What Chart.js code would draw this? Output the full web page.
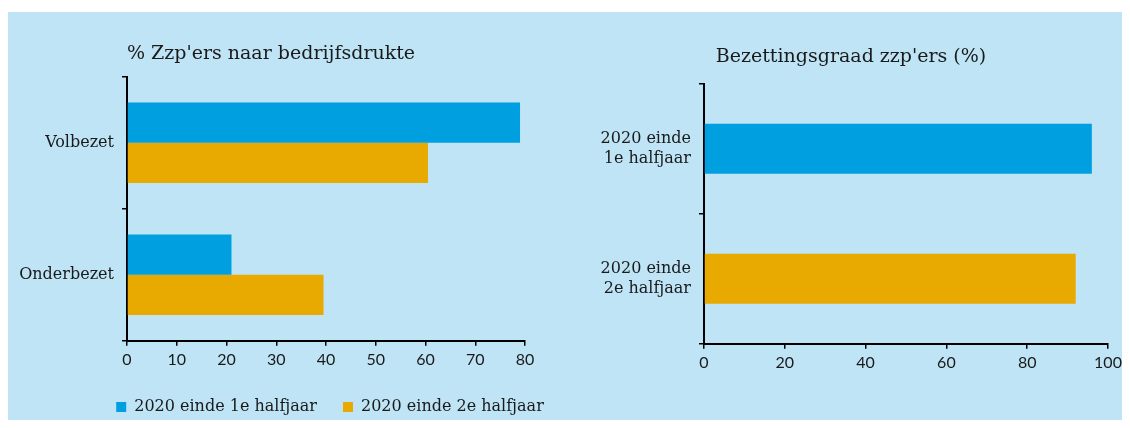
<!DOCTYPE html>
<html>
<head>
<meta charset="utf-8">
<script src="https://cdn.jsdelivr.net/npm/chart.js@4/dist/chart.umd.min.js"></script>
<style>
  body { margin: 0; background: #fff; width: 1130px; height: 428px; position: relative; overflow: hidden; }
  #panel { position: absolute; left: 8px; top: 12px; width: 1114px; height: 408px; background: #bee4f6; }
  .box { position: absolute; top: 0; height: 428px; }
  #left { left: 0; width: 660px; }
  #right { left: 570px; width: 560px; }
</style>
</head>
<body>
<div id="panel"></div>
<div class="box" id="left"><canvas id="chartLeft"></canvas></div>
<div class="box" id="right"><canvas id="chartRight"></canvas></div>
<script>
// data
const drukteCategories = ['Volbezet', 'Onderbezet']
const halfjaar1 = [79, 21]
const halfjaar2 = [60.5, 39.5]
const seriesNames = ['2020 einde 1e halfjaar', '2020 einde 2e halfjaar']

const bezettingCategories = [['2020 einde', '1e halfjaar'], ['2020 einde', '2e halfjaar']]
const bezettingValues = [96, 92]

const leftTicks = { max: 80, step: 10 }
const rightTicks = { max: 100, step: 20 }

const BLUE = '#009fe0'
const ORANGE = '#e8aa00'
const SERIF = '"DejaVu Serif", serif'
const SANS = 'Lato, sans-serif'
const INK = '#1a1a1a'

Chart.defaults.color = INK
Chart.defaults.animation = false

function axisStyle(offset) {
  return {
    border: { display: true, color: '#000', width: 2 },
    grid: { display: true, offset: !!offset, drawOnChartArea: false, drawTicks: true, tickLength: 5, color: '#000', lineWidth: 1.5 }
  }
}

// left chart: % zzp'ers naar bedrijfsdrukte
new Chart(document.querySelector('#chartLeft').getContext('2d'), {
  type: 'bar',
  data: {
    labels: drukteCategories,
    datasets: [
      { label: seriesNames[0], data: halfjaar1, backgroundColor: BLUE, categoryPercentage: 0.61, barPercentage: 1 },
      { label: seriesNames[1], data: halfjaar2, backgroundColor: ORANGE, categoryPercentage: 0.61, barPercentage: 1 }
    ]
  },
  options: {
    indexAxis: 'y',
    responsive: true,
    maintainAspectRatio: false,
    layout: { padding: { top: 43, right: 0, bottom: 3, left: 0 } },
    plugins: {
      title: {
        display: true,
        text: "% Zzp'ers naar bedrijfsdrukte",
        align: 'start',
        fullSize: false,
        color: INK,
        font: { family: SERIF, size: 19, weight: 'normal' },
        padding: { top: 0, bottom: 11 }
      },
      legend: {
        display: true,
        position: 'bottom',
        labels: {
          boxWidth: 10, boxHeight: 10, padding: 26,
          color: INK,
          font: { family: SERIF, size: 16 }
        }
      },
      tooltip: { enabled: false }
    },
    scales: {
      x: {
        min: 0, max: leftTicks.max,
        ...axisStyle(),
        ticks: { stepSize: leftTicks.step, padding: 4, font: { family: SANS, size: 16 }, color: INK },
        // keep room on the right so the plot ends at 80 where the picture does
        afterFit(scale) { scale.paddingRight = 135 }
      },
      y: {
        ...axisStyle(true),
        ticks: { padding: 8, font: { family: SERIF, size: 16 }, color: INK },
        afterFit(scale) { scale.width = 127 }
      }
    }
  }
})

// right chart: bezettingsgraad zzp'ers
new Chart(document.querySelector('#chartRight').getContext('2d'), {
  type: 'bar',
  data: {
    labels: bezettingCategories,
    datasets: [{
      label: 'Bezettingsgraad',
      data: bezettingValues,
      backgroundColor: [BLUE, ORANGE],
      categoryPercentage: 0.385,
      barPercentage: 1
    }]
  },
  options: {
    indexAxis: 'y',
    responsive: true,
    maintainAspectRatio: false,
    layout: { padding: { top: 46, right: 22, bottom: 52, left: 24 } },
    plugins: {
      title: {
        display: true,
        text: "Bezettingsgraad zzp'ers (%)",
        align: 'center',
        color: INK,
        font: { family: SERIF, size: 19, weight: 'normal' },
        padding: { top: 0, bottom: 15 }
      },
      legend: { display: false },
      tooltip: { enabled: false }
    },
    scales: {
      x: {
        min: 0, max: rightTicks.max,
        ...axisStyle(),
        ticks: { stepSize: rightTicks.step, padding: 4, font: { family: SANS, size: 16 }, color: INK }
      },
      y: {
        ...axisStyle(true),
        ticks: { padding: 8, font: { family: SERIF, size: 16 }, color: INK },
        afterFit(scale) { scale.width = 110 }
      }
    }
  }
})
</script>
</body>
</html>
